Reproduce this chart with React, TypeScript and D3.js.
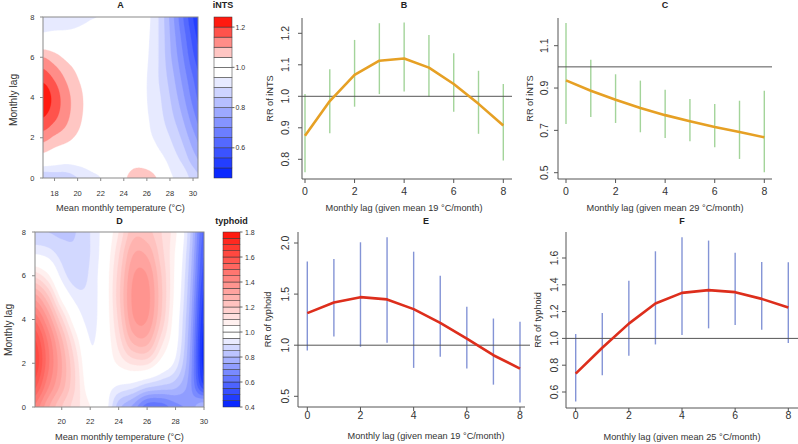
import React from "react";
import * as d3 from "d3";

const FONT = "'Liberation Sans', Arial, Helvetica, sans-serif";
const BLUE = "#0a28ff";
const RED = "#ff1a10";

// ---------- lag-response data ----------
const lags = [0, 1, 2, 3, 4, 5, 6, 7, 8];

const ints19 = [0.875, 0.985, 1.068, 1.113, 1.12, 1.091, 1.039, 0.976, 0.907];
const ints19Low = [0.759, 0.883, 0.967, 1.007, 1.015, 0.999, 0.951, 0.881, 0.796];
const ints19High = [1.007, 1.086, 1.179, 1.232, 1.234, 1.195, 1.137, 1.081, 1.039];

const ints29 = [0.936, 0.887, 0.845, 0.806, 0.772, 0.743, 0.716, 0.692, 0.667];
const ints29Low = [0.73, 0.763, 0.735, 0.691, 0.664, 0.648, 0.62, 0.565, 0.502];
const ints29High = [1.207, 1.034, 0.965, 0.935, 0.892, 0.848, 0.824, 0.84, 0.887];

const typh19 = [1.314, 1.418, 1.47, 1.448, 1.353, 1.219, 1.065, 0.902, 0.771];
const typh19Low = [0.947, 1.084, 0.984, 1.023, 0.778, 0.886, 0.771, 0.614, 0.44];
const typh19High = [1.82, 1.843, 2.007, 2.056, 1.915, 1.68, 1.376, 1.261, 1.229];

const typh25 = [0.7375, 0.93, 1.11, 1.26, 1.34, 1.36, 1.345, 1.295, 1.23];
const typh25Low = [0.53, 0.725, 0.87, 0.955, 1.025, 1.075, 1.1, 1.065, 0.965];
const typh25High = [1.033, 1.19, 1.43, 1.65, 1.755, 1.73, 1.64, 1.57, 1.5675];

// ---------- temperature x lag surfaces (rows: lag 0..8) ----------
const tempsA = [17, 18, 19, 20, 21, 22, 23, 24, 25, 26, 27, 28, 29, 30, 31];
const surfaceA = [
  [0.86, 0.87, 0.875, 0.9, 0.93, 0.95, 0.985, 1.035, 1.085, 1.08, 1.04, 0.96, 0.936, 0.88, 0.84],
  [1.02, 1.0, 0.985, 0.985, 0.99, 1.0, 1.0, 1.0, 1.01, 1.0, 0.97, 0.93, 0.887, 0.82, 0.77],
  [1.12, 1.09, 1.068, 1.04, 1.02, 1.0, 1.0, 1.0, 0.99, 0.965, 0.935, 0.9, 0.845, 0.77, 0.7],
  [1.2, 1.16, 1.113, 1.065, 1.03, 1.01, 1.0, 1.0, 0.985, 0.955, 0.92, 0.87, 0.806, 0.72, 0.64],
  [1.24, 1.18, 1.12, 1.07, 1.03, 1.01, 1.0, 0.995, 0.98, 0.95, 0.91, 0.85, 0.772, 0.68, 0.6],
  [1.18, 1.14, 1.091, 1.05, 1.02, 1.0, 1.0, 0.99, 0.98, 0.95, 0.9, 0.83, 0.743, 0.65, 0.57],
  [1.1, 1.07, 1.039, 1.02, 1.0, 1.0, 1.0, 0.99, 0.985, 0.955, 0.9, 0.81, 0.716, 0.61, 0.53],
  [0.97, 0.975, 0.976, 0.975, 0.98, 0.99, 1.0, 0.99, 0.99, 0.96, 0.9, 0.8, 0.692, 0.58, 0.49],
  [0.91, 0.91, 0.907, 0.93, 0.945, 0.955, 0.99, 0.99, 0.99, 0.965, 0.9, 0.79, 0.667, 0.55, 0.45],
];

const tempsD = [18, 19, 20, 21, 22, 23, 24, 25, 26, 27, 28, 29, 30];
const surfaceD = [
  [1.45, 1.314, 1.2, 1.12, 1.05, 0.99, 0.82, 0.7375, 0.62, 0.62, 0.68, 0.72, 0.8],
  [1.58, 1.418, 1.28, 1.14, 1.0, 0.98, 0.95, 0.93, 0.88, 0.85, 0.82, 0.72, 0.5],
  [1.66, 1.47, 1.3, 1.13, 0.97, 1.0, 1.06, 1.11, 1.11, 1.02, 0.93, 0.74, 0.42],
  [1.62, 1.448, 1.26, 1.08, 0.95, 1.0, 1.12, 1.26, 1.27, 1.12, 0.98, 0.76, 0.42],
  [1.5, 1.353, 1.16, 1.0, 0.93, 1.0, 1.16, 1.34, 1.35, 1.19, 1.0, 0.78, 0.45],
  [1.34, 1.219, 1.03, 0.93, 0.92, 1.0, 1.18, 1.36, 1.37, 1.21, 1.02, 0.8, 0.48],
  [1.14, 1.065, 0.93, 0.87, 0.91, 1.0, 1.17, 1.345, 1.35, 1.2, 1.03, 0.82, 0.52],
  [0.95, 0.93, 0.88, 0.86, 0.9, 0.99, 1.14, 1.295, 1.29, 1.17, 1.04, 0.84, 0.55],
  [0.86, 0.85, 0.84, 0.85, 0.9, 0.98, 1.1, 1.23, 1.22, 1.15, 1.06, 0.86, 0.58],
];

const levelsA = d3.range(17).map((i) => +(0.45 + 0.05 * i).toFixed(2));
const levelsD = d3.range(29).map((i) => +(0.4 + 0.05 * i).toFixed(2));
const legendTicksA = [0.6, 0.8, 1.0, 1.2];
const legendTicksD = [0.4, 0.6, 0.8, 1.0, 1.2, 1.4, 1.6, 1.8];
const tempTicksA = [18, 20, 22, 24, 26, 28, 30];
const tempTicksD = [20, 22, 24, 26, 28, 30];
const lagTicks = [0, 2, 4, 6, 8];

// ---------- helpers ----------
function cubic(p0: number, p1: number, p2: number, p3: number, t: number) {
  return p1 + 0.5 * t * (p2 - p0 + t * (2 * p0 - 5 * p1 + 4 * p2 - p3 + t * (3 * (p1 - p2) + p3 - p0)));
}
function sampleSurface(grid: number[][], xs: number[], x: number, lag: number) {
  const nx = xs.length, ny = grid.length;
  const fx = (x - xs[0]) / (xs[1] - xs[0]);
  const fy = lag;
  const ix = Math.max(0, Math.min(nx - 2, Math.floor(fx)));
  const iy = Math.max(0, Math.min(ny - 2, Math.floor(fy)));
  const tx = fx - ix, ty = fy - iy;
  const cl = (v: number, n: number) => Math.max(0, Math.min(n - 1, v));
  const g = (r: number, c: number) => grid[cl(r, ny)][cl(c, nx)];
  const rows = [-1, 0, 1, 2].map((dr) =>
    cubic(g(iy + dr, ix - 1), g(iy + dr, ix), g(iy + dr, ix + 1), g(iy + dr, ix + 2), tx)
  );
  return cubic(rows[0], rows[1], rows[2], rows[3], ty);
}
function bandColors(levels: number[]) {
  const nb = levels.length - 1;
  const nBlue = levels.filter((l) => l < 1 - 1e-9).length;
  const nRed = nb - nBlue;
  return d3.range(nb).map((k) =>
    k < nBlue
      ? d3.interpolateRgb(BLUE, "#ffffff")(k / (nBlue - 1))
      : d3.interpolateRgb("#ffffff", RED)((k - nBlue) / (nRed - 1))
  );
}

type ContourCfg = {
  id: string;
  title: string;
  legendTitle: string;
  surface: number[][];
  temps: number[];
  levels: number[];
  tempDomain: [number, number];
  tempTicks: number[];
  legendTicks: number[];
  box: { x: number; y: number; w: number; h: number };
  legend: { x: number; w: number; labelX: number };
  yTickX: number;
  yTitleX: number;
  yTitleY: number;
  xTickY: number;
  xTitleY: number;
  titleY: number;
};

function ContourPanel({ c }: { c: ContourCfg }) {
  const nx = 160, ny = 120;
  const { x: bx, y: by, w: bw, h: bh } = c.box;
  const [t0, t1] = c.tempDomain;
  const values = new Array(nx * ny);
  for (let j = 0; j < ny; j++) {
    const lag = 8 - ((j + 0.5) / ny) * 8;
    for (let i = 0; i < nx; i++) {
      const t = t0 + ((i + 0.5) / nx) * (t1 - t0);
      values[j * nx + i] = sampleSurface(c.surface, c.temps, t, lag);
    }
  }
  const colors = bandColors(c.levels);
  const thresholds = c.levels.slice(1, -1);
  const contours = d3.contours().size([nx, ny]).thresholds(thresholds)(values);
  const proj = d3.geoTransform({
    point: function (x: number, y: number) {
      (this as any).stream.point(bx + (x / nx) * bw, by + (y / ny) * bh);
    },
  });
  const path = d3.geoPath(proj as any);
  const xs = d3.scaleLinear().domain(c.tempDomain).range([bx, bx + bw]);
  const ys = d3.scaleLinear().domain([0, 8]).range([by + bh, by]);
  const ls = d3.scaleLinear().domain([c.levels[0], c.levels[c.levels.length - 1]]).range([by + bh, by]);
  return (
    <g>
      <clipPath id={"clip" + c.id}>
        <rect x={bx} y={by} width={bw} height={bh} />
      </clipPath>
      <g clipPath={`url(#clip${c.id})`}>
        <rect x={bx} y={by} width={bw} height={bh} fill={colors[0]} />
        {contours.map((ct, k) => (
          <path key={k} d={path(ct as any) || ""} fill={colors[k + 1]} stroke={colors[k + 1]} strokeWidth={0.3} />
        ))}
      </g>
      <rect x={bx} y={by} width={bw} height={bh} fill="none" stroke="#8a8a8a" strokeWidth={1} />
      {c.tempTicks.map((t) => (
        <g key={t}>
          <line x1={xs(t)} x2={xs(t)} y1={by + bh} y2={by + bh + 3} stroke="#8a8a8a" />
          <text x={xs(t)} y={c.xTickY} fontSize={7.5} textAnchor="middle" fill="#333">{t}</text>
        </g>
      ))}
      {lagTicks.map((l) => (
        <g key={l}>
          <line x1={bx - 3} x2={bx} y1={ys(l)} y2={ys(l)} stroke="#8a8a8a" />
          <text x={c.yTickX} y={ys(l) + 2.7} fontSize={7.5} textAnchor="end" fill="#333">{l}</text>
        </g>
      ))}
      <text x={bx + bw / 2} y={c.xTitleY} fontSize={9.2} textAnchor="middle" fill="#333">
        Mean monthly temperature (°C)
      </text>
      <text
        transform={`translate(${c.yTitleX},${c.yTitleY}) rotate(-90)`}
        fontSize={10.2}
        textAnchor="middle"
        dominantBaseline="central"
        fill="#333"
      >
        Monthly lag
      </text>
      <text x={bx + bw / 2} y={c.titleY} fontSize={9} fontWeight="bold" textAnchor="middle" fill="#222">
        {c.title}
      </text>
      {/* legend */}
      {colors.map((col, k) => (
        <rect
          key={k}
          x={c.legend.x}
          y={ls(c.levels[k + 1])}
          width={c.legend.w}
          height={ls(c.levels[k]) - ls(c.levels[k + 1])}
          fill={col}
          stroke="#333"
          strokeWidth={0.5}
        />
      ))}
      {c.legendTicks.map((v) => (
        <g key={v}>
          <line x1={c.legend.x + c.legend.w} x2={c.legend.x + c.legend.w + 2.5} y1={ls(v)} y2={ls(v)} stroke="#666" />
          <text x={c.legend.labelX} y={ls(v) + 2.5} fontSize={7} fill="#333">{v.toFixed(1)}</text>
        </g>
      ))}
      <text x={c.legend.x + c.legend.w / 2} y={c.titleY} fontSize={9} fontWeight="bold" textAnchor="middle" fill="#222">
        {c.legendTitle}
      </text>
    </g>
  );
}

type LagCfg = {
  title: string;
  est: number[];
  low: number[];
  high: number[];
  lineColor: string;
  barColor: string;
  xPix: [number, number];
  yVals: [number, number];
  yPix: [number, number];
  yTicks: number[];
  left: number;
  right: number;
  refRight: number;
  top: number;
  bottom: number;
  yTickX: number;
  yTitleX: number;
  yTitle: string;
  xTickY: number;
  xTitle: string;
  xTitleX: number;
  xTitleY: number;
  titleY: number;
};

function LagPanel({ c }: { c: LagCfg }) {
  const x = d3.scaleLinear().domain([0, 8]).range(c.xPix);
  const y = d3.scaleLinear().domain(c.yVals).range(c.yPix);
  const line = d3
    .line<number>()
    .x((_, i) => x(lags[i]))
    .y((d) => y(d));
  const midY = (c.top + c.bottom) / 2;
  return (
    <g>
      {lags.map((l, i) => (
        <line key={l} x1={x(l)} x2={x(l)} y1={y(c.low[i])} y2={y(c.high[i])} stroke={c.barColor} strokeWidth={1.4} />
      ))}
      <line x1={c.left} x2={c.refRight} y1={y(1)} y2={y(1)} stroke="#555" strokeWidth={1} />
      <path d={line(c.est) || ""} fill="none" stroke={c.lineColor} strokeWidth={2.6} strokeLinejoin="round" />
      <line x1={c.left} x2={c.left} y1={c.top} y2={c.bottom} stroke="#555" />
      <line x1={c.left} x2={c.right} y1={c.bottom} y2={c.bottom} stroke="#555" />
      {lagTicks.map((l) => (
        <g key={l}>
          <line x1={x(l)} x2={x(l)} y1={c.bottom} y2={c.bottom + 4} stroke="#555" />
          <text x={x(l)} y={c.xTickY} fontSize={10.5} textAnchor="middle" fill="#333">{l}</text>
        </g>
      ))}
      {c.yTicks.map((v) => (
        <g key={v}>
          <line x1={c.left - 4} x2={c.left} y1={y(v)} y2={y(v)} stroke="#555" />
          <text
            transform={`translate(${c.yTickX},${y(v)}) rotate(-90)`}
            fontSize={10.5}
            textAnchor="middle"
            dominantBaseline="central"
            fill="#333"
          >
            {v.toFixed(1)}
          </text>
        </g>
      ))}
      <text
        transform={`translate(${c.yTitleX},${midY}) rotate(-90)`}
        fontSize={9.2}
        textAnchor="middle"
        dominantBaseline="central"
        fill="#333"
      >
        {c.yTitle}
      </text>
      <text x={c.xTitleX} y={c.xTitleY} fontSize={9.2} textAnchor="middle" fill="#333">{c.xTitle}</text>
      <text x={c.xTitleX} y={c.titleY} fontSize={9} fontWeight="bold" textAnchor="middle" fill="#222">{c.title}</text>
    </g>
  );
}

const contourA: ContourCfg = {
  id: "A",
  title: "A",
  legendTitle: "iNTS",
  surface: surfaceA,
  temps: tempsA,
  levels: levelsA,
  tempDomain: [17, 30.43],
  tempTicks: tempTicksA,
  legendTicks: legendTicksA,
  box: { x: 43, y: 17, w: 155, h: 161 },
  legend: { x: 214, w: 18, labelX: 235.5 },
  yTickX: 34.5,
  yTitleX: 13.5,
  yTitleY: 100,
  xTickY: 195.5,
  xTitleY: 211,
  titleY: 7.5,
};

const contourD: ContourCfg = {
  id: "D",
  title: "D",
  legendTitle: "typhoid",
  surface: surfaceD,
  temps: tempsD,
  levels: levelsD,
  tempDomain: [18.12, 30],
  tempTicks: tempTicksD,
  legendTicks: legendTicksD,
  box: { x: 35, y: 232, w: 169, h: 175 },
  legend: { x: 223, w: 17, labelX: 245 },
  yTickX: 26,
  yTitleX: 8.5,
  yTitleY: 330,
  xTickY: 424,
  xTitleY: 440,
  titleY: 224,
};

const panelB: LagCfg = {
  title: "B",
  est: ints19,
  low: ints19Low,
  high: ints19High,
  lineColor: "#e6a024",
  barColor: "#a3d49a",
  xPix: [305, 503.3],
  yVals: [0.8, 1.2],
  yPix: [159.3, 33.3],
  yTicks: [0.8, 0.9, 1.0, 1.1, 1.2],
  left: 302,
  right: 512,
  refRight: 512,
  top: 18,
  bottom: 179,
  yTickX: 285,
  yTitleX: 270,
  yTitle: "RR of iNTS",
  xTickY: 194.5,
  xTitle: "Monthly lag (given mean 19 °C/month)",
  xTitleX: 404,
  xTitleY: 211,
  titleY: 7.5,
};

const panelC: LagCfg = {
  title: "C",
  est: ints29,
  low: ints29Low,
  high: ints29High,
  lineColor: "#e6a024",
  barColor: "#a3d49a",
  xPix: [566, 764.3],
  yVals: [0.5, 1.1],
  yPix: [172.7, 45.7],
  yTicks: [0.5, 0.7, 0.9, 1.1],
  left: 558,
  right: 772,
  refRight: 772,
  top: 18,
  bottom: 179,
  yTickX: 544,
  yTitleX: 530,
  yTitle: "RR of iNTS",
  xTickY: 194.5,
  xTitle: "Monthly lag (given mean 29 °C/month)",
  xTitleX: 665,
  xTitleY: 211,
  titleY: 7.5,
};

const panelE: LagCfg = {
  title: "E",
  est: typh19,
  low: typh19Low,
  high: typh19High,
  lineColor: "#dd2e1c",
  barColor: "#8494d6",
  xPix: [307.3, 520],
  yVals: [0.5, 2.0],
  yPix: [396.3, 243],
  yTicks: [0.5, 1.0, 1.5, 2.0],
  left: 298,
  right: 525,
  refRight: 530,
  top: 232,
  bottom: 407,
  yTickX: 285,
  yTitleX: 268,
  yTitle: "RR of typhoid",
  xTickY: 418.5,
  xTitle: "Monthly lag (given mean 19 °C/month)",
  xTitleX: 426,
  xTitleY: 439,
  titleY: 224,
};

const panelF: LagCfg = {
  title: "F",
  est: typh25,
  low: typh25Low,
  high: typh25High,
  lineColor: "#dd2e1c",
  barColor: "#8494d6",
  xPix: [575.7, 788.3],
  yVals: [0.6, 1.6],
  yPix: [392, 258],
  yTicks: [0.6, 0.8, 1.0, 1.2, 1.4, 1.6],
  left: 566,
  right: 798,
  refRight: 798,
  top: 232,
  bottom: 408,
  yTickX: 554,
  yTitleX: 538,
  yTitle: "RR of typhoid",
  xTickY: 418.5,
  xTitle: "Monthly lag (given mean 25 °C/month)",
  xTitleX: 682,
  xTitleY: 440,
  titleY: 224,
};

export default function App() {
  return (
    <svg
      width={798}
      height={444}
      style={{ position: "absolute", left: 0, top: 0, background: "#fff" }}
      fontFamily={FONT}
    >
      <rect x={0} y={0} width={798} height={444} fill="#fff" />
      <ContourPanel c={contourA} />
      <ContourPanel c={contourD} />
      <LagPanel c={panelB} />
      <LagPanel c={panelC} />
      <LagPanel c={panelE} />
      <LagPanel c={panelF} />
    </svg>
  );
}
